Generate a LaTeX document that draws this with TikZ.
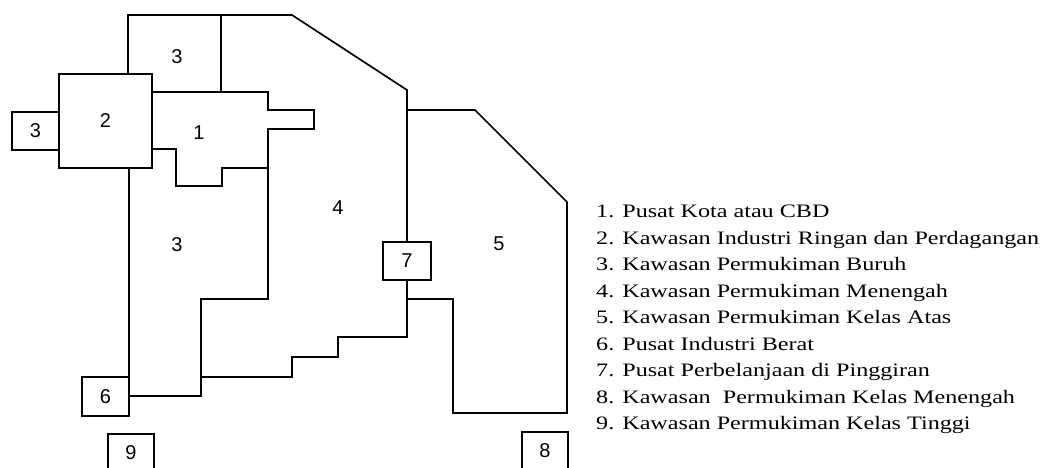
\documentclass[tikz,border=0pt]{standalone}
\usepackage{fontspec}
\newfontfamily\mapfont{Liberation Sans}
\newfontfamily\legendfont[FakeStretch=1.27]{Liberation Serif}
\usetikzlibrary{positioning}

\begin{document}
\begin{tikzpicture}[x=1pt, y=-1pt,
    zone/.style={line width=1.7pt, line join=miter},
    box/.style={draw, line width=1.7pt, inner sep=0pt, fill=white,
                font=\mapfont\fontsize{20}{20}\selectfont},
    lbl/.style={inner sep=0pt, font=\mapfont\fontsize{20}{20}\selectfont}
]
\useasboundingbox (0,0) rectangle (1040,467);

% zona berbentuk kotak
\node[box, minimum width=93pt, minimum height=94pt] (ind)  at (105.5,121) {2};
\node[box, minimum width=47pt, minimum height=38pt] (buruhA) at (35.5,131) {3};
\node[box, minimum width=47pt, minimum height=39pt] (berat) at (105.5,396.5) {6};
\node[box, minimum width=48pt, minimum height=38pt] (belanja) at (407,261) {7};
\node[box, minimum width=46pt, minimum height=38pt] (menengah) at (545,451) {8};
\node[box, minimum width=46pt, minimum height=38pt] (tinggi) at (131,453) {9};

% batas wilayah
\draw[zone] (128,74) -- (128,15) -- (292,15) -- (407,90) -- (belanja.north);
\draw[zone] (221,15) -- (221,92);
\draw[zone] (152,92) -- (268,92) -- (268,110) -- (314,110) -- (314,129)
    -- (268,129) -- (268,168) -- (222,168) -- (222,186) -- (176,186)
    -- (176,149) -- (152,149);
\draw[zone] (268,168) -- (268,299) -- (201,299) -- (201,396) -- (129,396)
    -- (129,168);
\draw[zone] (201,377) -- (292,377) -- (292,357) -- (338,357) -- (338,337)
    -- (407,337) -- (belanja.south);
\draw[zone] (407,110) -- (475,110) -- (567,202) -- (567,413) -- (453,413)
    -- (453,299) -- (407,299);

% nomor zona
\node[lbl] (cbd)   at (199,133) {1};
\node[lbl] (buruhB) at (177,57)  {3};
\node[lbl] (buruhC) at (177,245) {3};
\node[lbl] (sedang) at (338,208) {4};
\node[lbl] (atas)  at (499,244) {5};

% keterangan
\node[anchor=north west, inner sep=0pt, align=left,
      font=\legendfont\fontsize{19}{26.5}\selectfont] (legend) at (596,205)
  {1. Pusat Kota atau CBD\\
   2. Kawasan Industri Ringan dan Perdagangan\\
   3. Kawasan Permukiman Buruh\\
   4. Kawasan Permukiman Menengah\\
   5. Kawasan Permukiman Kelas Atas\\
   6. Pusat Industri Berat\\
   7. Pusat Perbelanjaan di Pinggiran\\
   8. Kawasan\ \ Permukiman Kelas Menengah\\
   9. Kawasan Permukiman Kelas Tinggi};
\end{tikzpicture}
\end{document}
